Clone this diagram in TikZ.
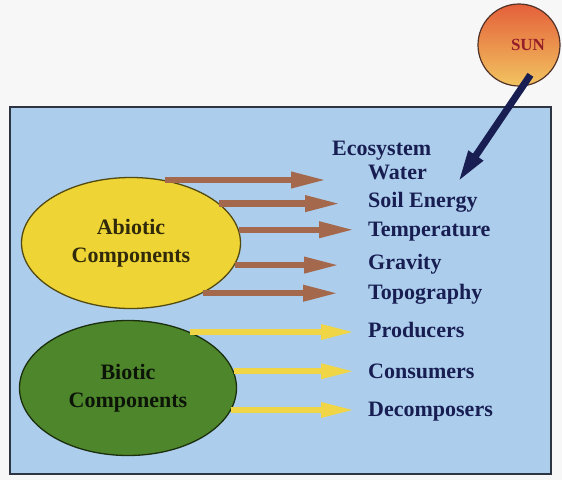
\documentclass[tikz,border=0pt]{standalone}
\usepackage{fontspec}
\setmainfont{Liberation Serif}
\usetikzlibrary{arrows.meta,shapes.geometric}
\definecolor{pagebg}{RGB}{247,247,247}
\definecolor{skyfill}{RGB}{172,206,236}
\definecolor{frameline}{RGB}{45,52,66}
\definecolor{abioyellow}{RGB}{238,212,52}
\definecolor{bioticgreen}{RGB}{78,134,44}
\definecolor{rustbrown}{RGB}{164,104,76}
\definecolor{paleyellow}{RGB}{240,214,70}
\definecolor{inknavy}{RGB}{24,30,82}
\definecolor{sunred}{RGB}{228,96,58}
\definecolor{sunorange}{RGB}{238,132,72}
\definecolor{sunyellow}{RGB}{242,196,96}
\definecolor{sunrim}{RGB}{80,50,40}
\definecolor{sunink}{RGB}{150,30,40}

\begin{document}
\begin{tikzpicture}[x=1pt,y=-1pt,
    lbl/.style={anchor=west,inner sep=0pt,text height=14pt,text depth=0pt,text=inknavy,font=\fontsize{22}{26}\selectfont\bfseries},
    comp/.style={ellipse,draw=#1!35!black,fill=#1,line width=1.3pt,inner sep=0pt,align=center,font=\fontsize{22}{28}\selectfont\bfseries},
    brarrow/.style={rustbrown,line width=6.5pt,-{Triangle[length=36pt,width=15pt]}},
    ylarrow/.style={paleyellow,line width=6pt,-{Triangle[length=34pt,width=14pt]}}]
    \useasboundingbox (0,0) rectangle (562,480);
    \fill[pagebg] (0,0) rectangle (562,480);
    % frame
    \draw[fill=skyfill,draw=frameline,line width=1.5pt] (10,107) rectangle (551,474);
    % sun
    \node[circle,minimum size=82pt,inner sep=0pt,draw=sunrim,line width=1.2pt,
      top color=sunred,middle color=sunorange,bottom color=sunyellow] (sun) at (519,45) {};
    \node[font=\fontsize{17}{20}\selectfont\bfseries,text=sunink] (suntxt) at (528,45) {SUN};
    % components
    \node[comp=abioyellow,minimum width=219pt,minimum height=131pt,text=black!80!abioyellow] (abiotic) at (131,243) {Abiotic\\Components};
    \node[comp=bioticgreen,minimum width=217pt,minimum height=135pt,text=black!85!bioticgreen] (biotic) at (128,388) {Biotic\\Components};
    % labels
    \node[lbl] (eco) at (332,148) {Ecosystem};
    \node[lbl] (water) at (368,172) {Water};
    \node[lbl] (soil) at (368,200) {Soil Energy};
    \node[lbl] (temp) at (368,229) {Temperature};
    \node[lbl] (grav) at (368,262) {Gravity};
    \node[lbl] (topo) at (368,292) {Topography};
    \node[lbl] (prod) at (368,330) {Producers};
    \node[lbl] (cons) at (368,371) {Consumers};
    \node[lbl] (decomp) at (368,409) {Decomposers};
    % abiotic arrows
    \draw[brarrow,shorten >=41pt] (abiotic.62) -- (abiotic.62 -| water.west);
    \draw[brarrow,shorten >=27pt] (abiotic.24) -- (abiotic.24 -| soil.west);
    \draw[brarrow,shorten >=13pt] (abiotic.7) -- (abiotic.7 -| temp.west);
    \draw[brarrow,shorten >=28pt] (abiotic.-12) -- (abiotic.-12 -| grav.west);
    \draw[brarrow,shorten >=29pt] (abiotic.-35) -- (abiotic.-35 -| topo.west);
    % biotic arrows
    \draw[ylarrow,shorten >=13pt] (biotic.42) -- (biotic.42 -| prod.west);
    \draw[ylarrow,shorten >=13pt] (biotic.9) -- (biotic.9 -| cons.west);
    \draw[ylarrow,shorten >=13pt] (biotic.-12) -- (biotic.-12 -| decomp.west);
    % sun ray
    \coordinate (ray) at (458,182);
    \draw[inknavy,line width=7pt,-{Triangle[length=32pt,width=16pt]},shorten <=-14pt] (sun.-85) -- (ray);
\end{tikzpicture}
\end{document}
